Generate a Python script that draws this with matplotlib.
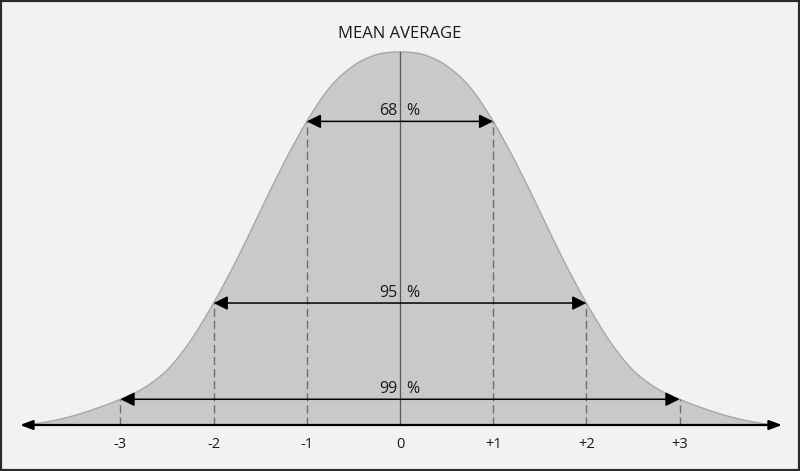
import numpy as np
import matplotlib
matplotlib.use("Agg")
import matplotlib.pyplot as plt
from matplotlib.path import Path
from matplotlib.patches import PathPatch, Rectangle

# ---- data ----
# half-profile of the bell curve (sigma units, relative height), mirrored for the left side
curve_x_half = [0.0, 0.25, 0.5, 0.75, 1.0, 1.25, 1.5, 1.75, 2.0, 2.25, 2.5, 2.75, 3.0, 3.25, 3.5, 3.75, 4.0]
curve_h_half = [1.000, 0.993, 0.963, 0.906, 0.814, 0.700, 0.573, 0.444, 0.327, 0.225, 0.147, 0.099, 0.069, 0.045, 0.025, 0.010, 0.0]
tick_values = [-3, -2, -1, 0, 1, 2, 3]
tick_labels = ['-3', '-2', '-1', '0', '+1', '+2', '+3']
range_sigmas = [1, 2, 3]
range_percents = ['68', '95', '99']
title = "MEAN AVERAGE"

# ---- styling ----
BG = '#f1f2f2'
FILL = '#c8c9ca'
EDGE = '#a5a7a9'
TXT = '#1a1a1a'
FONT = 'Open Sans'
plt.rcParams['font.family'] = [FONT, 'DejaVu Sans']

W, H = 800, 471
PX_PER_SIGMA = 93.2
PX_PER_UNIT_H = 373.0
X0_PX, Y0_PX = 400.0, 425.0

fig = plt.figure(figsize=(W / 100, H / 100), dpi=100, facecolor=BG)
ax = fig.add_axes([0, 0, 1, 1])
ax.set_facecolor(BG)
ax.set_xlim(-X0_PX / PX_PER_SIGMA, (W - X0_PX) / PX_PER_SIGMA)
ax.set_ylim(-(H - Y0_PX) / PX_PER_UNIT_H, Y0_PX / PX_PER_UNIT_H)
ax.axis('off')

# full curve
xs = np.array([-v for v in curve_x_half[::-1]] + curve_x_half[1:])
hs = np.array(curve_h_half[::-1] + curve_h_half[1:])
pts = np.column_stack([xs, hs])

# smooth path through points (Catmull-Rom rendered as cubic Bezier)
ext = np.vstack([pts[0], pts, pts[-1]])
verts = [tuple(pts[0])]
codes = [Path.MOVETO]
for i in range(1, len(ext) - 2):
    p0, p1, p2, p3 = ext[i - 1], ext[i], ext[i + 1], ext[i + 2]
    c1 = p1 + (p2 - p0) / 6.0
    c2 = p2 - (p3 - p1) / 6.0
    verts += [tuple(c1), tuple(c2), tuple(p2)]
    codes += [Path.CURVE4] * 3
fill_verts = verts + [tuple(pts[0])]
fill_codes = codes + [Path.CLOSEPOLY]
ax.add_patch(PathPatch(Path(fill_verts, fill_codes), facecolor=FILL, edgecolor='none', zorder=1))
ax.add_patch(PathPatch(Path(verts, codes), facecolor='none', edgecolor=EDGE, lw=1.0, zorder=2))

def curve_at(x):
    return float(np.interp(abs(x), curve_x_half, curve_h_half))

# center line
ax.plot([0, 0], [0, curve_at(0)], color='#58595b', lw=0.9, zorder=3)

# dashed verticals
for s in range_sigmas:
    h = curve_at(s)
    for sx in (-s, s):
        ax.plot([sx, sx], [0, h], color='#6d6e71', lw=1.0, dashes=(5.8, 2.9), zorder=3)

# range arrows and labels
for s, pct in zip(range_sigmas, range_percents):
    h = curve_at(s)
    ax.annotate('', xy=(s, h), xytext=(-s, h),
                arrowprops=dict(arrowstyle='<|-|>,head_length=0.85,head_width=0.42',
                                mutation_scale=10, color='black', lw=1.1,
                                shrinkA=0, shrinkB=0), zorder=5)
    ty = h + 10 / PX_PER_UNIT_H
    ax.text(-3 / PX_PER_SIGMA, ty, pct, ha='right', va='center', fontsize=11.5, color=TXT, zorder=6)
    ax.text(6 / PX_PER_SIGMA, ty, '%', ha='left', va='center', fontsize=11.5, color=TXT, zorder=6)

# baseline with arrows at both ends
x_left = -(X0_PX - 20) / PX_PER_SIGMA
x_right = (782 - X0_PX) / PX_PER_SIGMA
ax.annotate('', xy=(x_right, 0), xytext=(x_left, 0),
            arrowprops=dict(arrowstyle='<|-|>,head_length=0.75,head_width=0.28',
                            mutation_scale=10, color='black', lw=1.6,
                            shrinkA=0, shrinkB=0), zorder=6)

# tick labels
for v, lab in zip(tick_values, tick_labels):
    ax.text(v, -20 / PX_PER_UNIT_H, lab, ha='center', va='center', fontsize=10.5, color=TXT)

# title
ax.text(0, (Y0_PX - 34) / PX_PER_UNIT_H, title, ha='center', va='center', fontsize=12, color=TXT)

# frame
fig.patches.append(Rectangle((0, 0), 1, 1, transform=fig.transFigure, fill=False,
                             edgecolor='#2b2b2b', lw=3.0, zorder=10))

fig.savefig('out.png', dpi=100, facecolor=BG)
